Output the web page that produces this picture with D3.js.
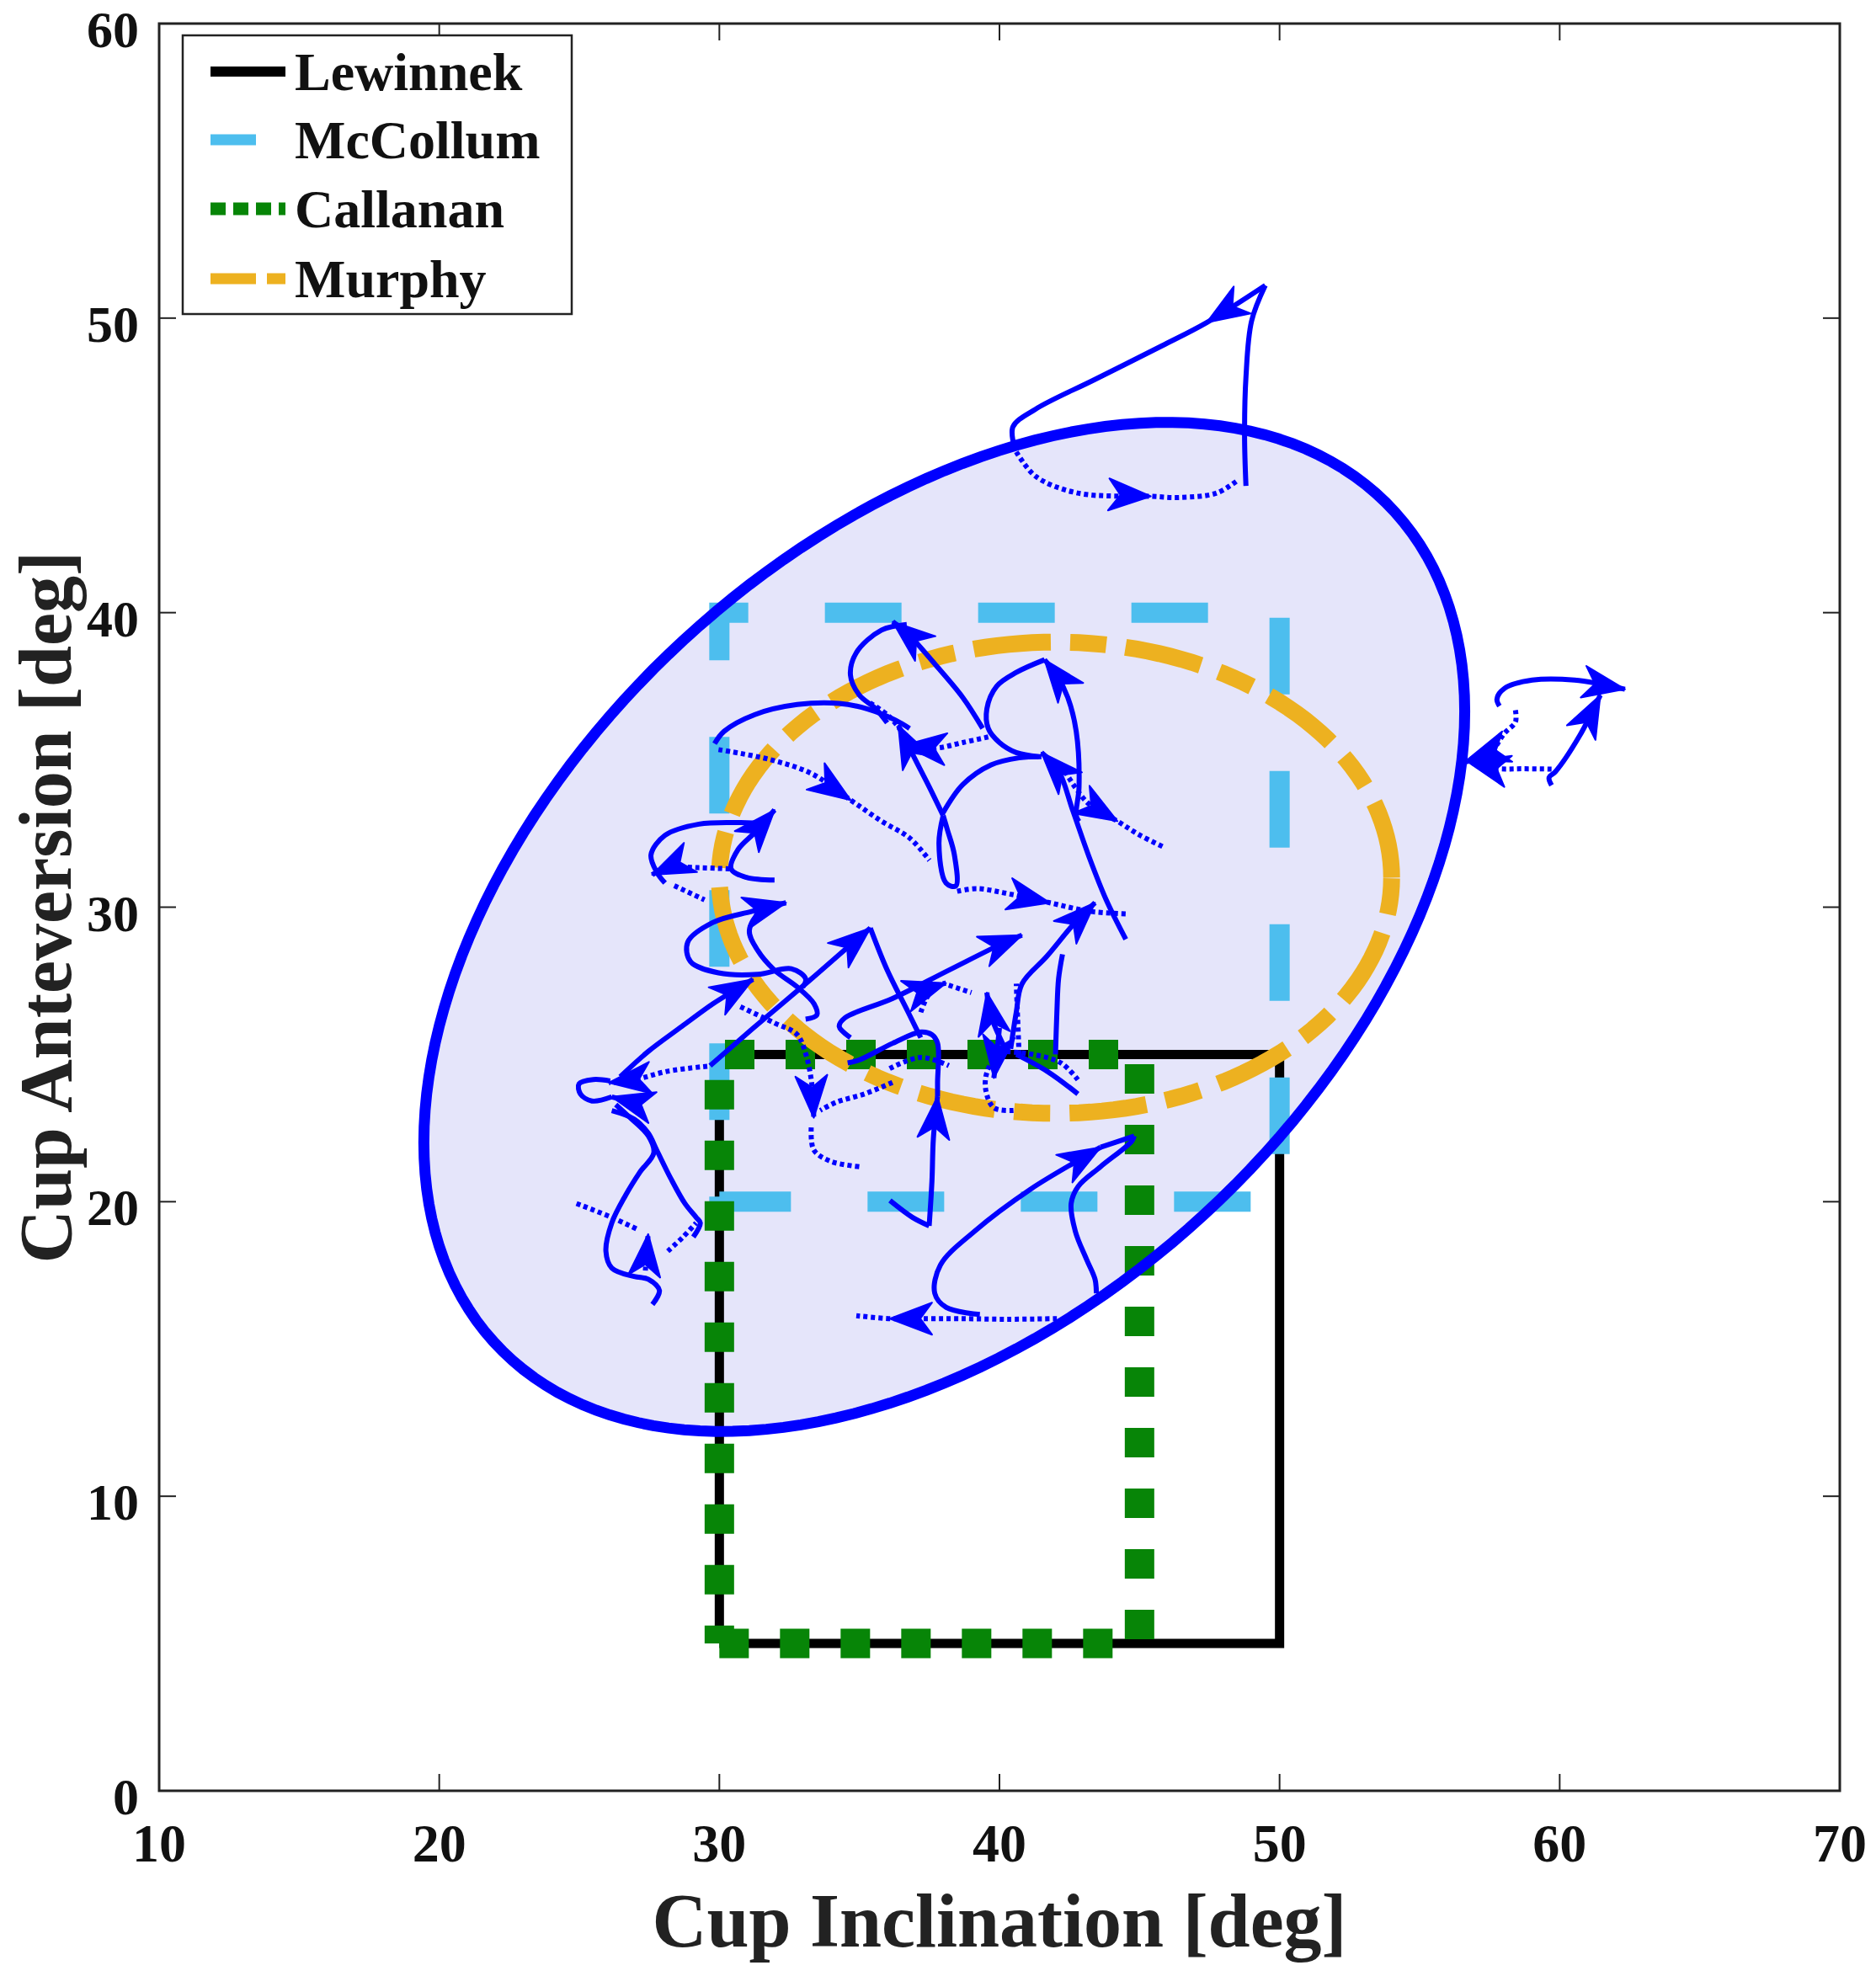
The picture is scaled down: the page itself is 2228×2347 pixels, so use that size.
<!DOCTYPE html>
<html><head><meta charset="utf-8">
<script src="https://cdn.jsdelivr.net/npm/d3@7"></script>
<style>body{margin:0;background:#fff}</style>
</head><body>
<svg id="chart" width="2228" height="2347"></svg>
<script>
// ---------------- data ----------------
const xTicks = [10,20,30,40,50,60,70];
const yTicks = [0,10,20,30,40,50,60];
const xTitle = "Cup Inclination [deg]";
const yTitle = "Cup Anteversion [deg]";
const legendNames = ["Lewinnek","McCollum","Callanan","Murphy"];
const lewinnekX = [30,50,50,30,30], lewinnekY = [5,5,25,25,5];
const mccollumX = [30,30,50,50,30], mccollumY = [20,40,40,20,20];
const callananX = [30,45,45,30,30], callananY = [5,5,25,25,5];
const murphyEllipse = [42,31.0,12,8.0];              // cx, cy, rx, ry
const confEllipse = [38.03,29.33,18.58,17.13,136];   // cx, cy, sdx, sdy, cov

const trajA = [
 {s:"solid",p:[[48.8,44.3],[48.75,46],[48.8,48],[49.0,49.9],[49.49,51.11]]},
 {s:"solid",p:[[49.49,51.11],[47.4,49.85],[45.8,49.06],[43.39,47.91],[41.29,46.91],[40.48,46.31],[40.54,45.6]],a:[1]},
 {s:"dot",p:[[40.6,45.46],[41.29,44.63],[42.79,44.06],[45.4,43.95],[46.4,43.91],[47.75,44.06],[48.5,44.49]],a:[3]}
];
const trajB = [
 {s:"solid",p:[[59.71,34.14],[59.62,34.4],[59.85,34.6],[60.7,35.8],[61.45,37.2]],a:[4]},
 {s:"solid",p:[[57.85,36.83],[57.76,37.06],[58.03,37.43],[59.02,37.71],[60.53,37.71],[62.33,37.4]],a:[5]},
 {s:"dot",p:[[58.42,36.69],[58.42,36.29],[58.03,35.91],[57.52,35.26],[56.7,35.0]],a:[4]},
 {s:"dot",p:[[59.71,34.69],[58.7,34.7],[57.73,34.71],[56.7,34.95]],a:[3]}
];
const trajC = [
 {s:"solid",p:[[29.83,35.55],[30.17,35.97],[31.27,36.54],[32.78,36.88],[34.28,36.92],[35.29,36.73],[36.29,36.35],[36.79,36.07]]},
 {s:"dot",p:[[29.97,35.35],[31.77,35.02],[33.28,34.54],[34.68,33.64],[35.79,32.92],[36.79,32.35],[37.5,31.59]],a:[3]}
];
const trajD = [
 {s:"solid",p:[[39.4,36.07],[38.69,37.12],[37.69,38.26],[36.79,39.22],[36.19,39.69]],a:[4]},
 {s:"solid",p:[[36.69,39.6],[35.79,39.41],[34.89,38.64],[34.68,37.88],[34.99,37.21],[35.59,36.73],[35.99,36.26]]},
 {s:"dot",p:[[35.38,36.94],[36.09,36.45],[36.79,35.59]]}
];
const trajE = [
 {s:"solid",p:[[42.84,32.91],[42.74,33.11],[42.84,34.07],[42.74,35.97],[42.44,37.12],[42.04,37.88],[41.61,38.4]],a:[6]},
 {s:"solid",p:[[41.61,38.4],[40.6,37.97],[39.9,37.5],[39.55,36.73],[39.6,36.07],[40.0,35.59],[40.6,35.25],[41.4,35.11]]},
 {s:"dot",p:[[42.2,34.83],[42.71,34.06],[43.21,33.49],[44.21,32.92],[45.02,32.44],[45.82,32.06]],a:[3]}
];
const trajF = [
 {s:"solid",p:[[44.51,28.91],[43.81,30.25],[43.21,31.68],[42.61,33.3],[42.11,34.63],[41.5,35.25]],a:[5]},
 {s:"solid",p:[[37.99,33.21],[38.69,34.16],[39.7,34.83],[40.7,35.07],[41.5,35.11]]},
 {s:"solid",p:[[37.99,33.11],[37.84,32.16],[38.09,30.82],[38.44,30.72],[38.39,31.78],[38.14,32.63],[37.99,33.11]]},
 {s:"solid",p:[[37.99,33.11],[37.5,34.07],[36.99,35.02],[36.39,36.17]],a:[3]},
 {s:"dot",p:[[38.49,30.54],[39.2,30.63],[40.4,30.44],[41.8,30.15],[43.21,29.86],[44.61,29.77]],a:[3]},
 {s:"dot",p:[[39.6,35.78],[38.69,35.59],[37.69,35.4],[36.59,35.5]],a:[3]}
];
const trajG = [
 {s:"solid",p:[[31.77,32.82],[30.77,32.87],[29.27,32.82],[28.06,32.44],[27.56,31.78],[27.76,31.2],[28.06,30.82]]},
 {s:"solid",p:[[31.97,30.92],[30.97,31.01],[30.42,31.3],[30.67,31.96],[31.27,32.54],[31.97,33.3]],a:[5]},
 {s:"dot",p:[[30.37,31.3],[29.27,31.34],[28.16,31.34],[27.6,31.1]],a:[3]},
 {s:"dot",p:[[28.39,30.73],[29.47,30.25]]}
];
const trajH = [
 {s:"solid",p:[[32.98,27.29],[33.08,27.57],[32.57,27.91],[31.37,27.72],[29.97,27.77],[28.97,28.15],[28.87,28.81],[29.77,29.48],[31.17,29.86],[32.38,30.15]],a:[9]},
 {s:"solid",p:[[33.08,26.2],[33.48,26.34],[33.38,26.72],[32.78,27.29],[31.97,27.86],[31.37,28.53],[31.07,29.2],[31.47,29.86],[32.2,30.1]]}
];
const trajI = [
 {s:"solid",p:[[26.46,24.24],[27.46,25.1],[28.66,25.95],[29.77,26.72],[30.57,27.19],[31.2,27.55]],a:[5]},
 {s:"dot",p:[[29.57,24.6],[28.16,24.43],[26.96,24.14],[26.06,24.04]],a:[3]},
 {s:"solid",p:[[26.16,23.56],[25.45,23.42],[25.04,23.66],[24.99,24.0],[25.5,24.15],[26.1,24.1]]},
 {s:"solid",p:[[27.2,23.3],[26.16,23.56]],a:[1]},
 {s:"solid",p:[[26.16,23.09],[26.96,22.8],[27.46,22.33],[27.76,21.76],[28.26,20.8],[28.77,19.94],[29.17,19.47],[29.32,19.28],[29.07,18.8]]},
 {s:"solid",p:[[26.3,23.3],[26.76,22.9],[27.46,22.24],[27.66,21.66],[27.16,21.0],[26.66,20.23],[26.16,19.28],[25.95,18.32],[26.16,17.75],[26.96,17.46],[27.46,17.37],[27.86,16.99],[27.61,16.51]]},
 {s:"dot",p:[[24.9,19.94],[26.15,19.47],[27.1,19.05]]},
 {s:"dot",p:[[27.36,17.66],[27.4,18.3],[27.46,18.9]],a:[2]},
 {s:"dot",p:[[28.16,18.32],[28.7,18.8],[29.17,19.28]]}
];
const trajJ = [
 {s:"solid",p:[[29.67,24.62],[31.17,25.86],[33.18,27.48],[34.68,28.72],[35.39,29.29]],a:[4]},
 {s:"solid",p:[[35.39,29.29],[35.99,27.87],[36.69,26.53],[37.09,25.76],[37.19,25.57]]}
];
const trajK = [
 {s:"solid",p:[[36.09,20.04],[36.89,19.47],[37.49,19.18]]},
 {s:"solid",p:[[37.49,19.18],[37.59,20.71],[37.64,22.14],[37.79,23.57]],a:[3]},
 {s:"solid",p:[[37.79,23.57],[37.79,24.05],[37.79,25.38],[37.59,25.67],[37.19,25.76],[36.19,25.38],[34.99,24.81],[34.58,24.71]]}
];
const trajL = [
 {s:"dot",p:[[30.75,26.62],[31.96,26.07],[32.77,25.68],[33.09,25.0],[33.3,24.0],[33.37,22.85]],a:[5]},
 {s:"dot",p:[[36.18,24.05],[35.18,23.66],[34.18,23.38],[33.6,23.1]]},
 {s:"dot",p:[[33.28,22.52],[33.37,21.76],[33.98,21.37],[35.08,21.18]]}
];
const trajM = [
 {s:"solid",p:[[34.68,25.57],[34.28,25.95],[34.48,26.24],[36.18,26.9],[38.19,27.86],[40.2,28.81],[40.8,29.05]],a:[6]}
];
const trajN = [
 {s:"solid",p:[[40.4,25.19],[40.6,26.43],[40.8,27.39],[41.7,28.34],[42.7,29.48],[43.41,30.15]],a:[5]},
 {s:"solid",p:[[42.0,25.0],[42.05,26.43],[42.11,27.57],[42.25,28.4]]},
 {s:"solid",p:[[42.8,23.66],[41.7,24.43],[40.6,25.0]]},
 {s:"dot",p:[[42.8,24.14],[42.2,24.71],[41.2,25.0],[40.2,25.1]]}
];
const trajO = [
 {s:"dot",p:[[40.5,23.1],[39.8,23.19],[39.5,23.86],[39.6,24.52],[40.0,25.0]]},
 {s:"solid",p:[[40.0,25.9],[39.9,25.0],[39.8,24.2]],a:[2]},
 {s:"solid",p:[[40.2,25.2],[39.7,26.3],[39.55,27.1]],a:[2]},
 {s:"dot",p:[[40.7,25.0],[40.65,26.2],[40.6,27.4]]}
];
const trajP = [
 {s:"dot",p:[[37.19,26.43],[37.39,26.9],[37.7,27.3],[38.09,27.42]],a:[3]},
 {s:"dot",p:[[38.19,27.35],[39.0,27.1]]},
 {s:"dot",p:[[36.08,24.52],[37.19,24.9],[38.19,24.62]]}
];
const trajQ = [
 {s:"solid",p:[[39.3,16.17],[38.1,16.41],[37.69,16.89],[37.89,17.85],[39.1,18.99],[41.1,20.42],[43.11,21.57],[43.61,21.85]],a:[7]},
 {s:"solid",p:[[43.61,21.85],[44.81,22.23]]},
 {s:"solid",p:[[44.81,22.23],[44.72,22.05],[43.61,21.19],[42.81,20.52],[42.56,19.94],[42.71,18.99],[43.11,18.04],[43.41,17.37],[43.46,16.89]]},
 {s:"dot",p:[[42.05,16.03],[40.29,16.01],[38.49,16.03],[37.09,16.03],[36.09,16.03],[34.89,16.13]],a:[4]}
];
const trajectories = [trajA,trajB,trajC,trajD,trajE,trajF,trajG,trajH,trajI,trajJ,trajK,trajL,trajM,trajN,trajO,trajP,trajQ];

// ---------------- drawing ----------------
const FONT = "'Liberation Serif','Times New Roman',serif";
const BLUE = "#0000FF", LBLUE = "#4DBEEE", GREEN = "#078507", ORANGE = "#EDB120";
const svg = d3.select("#chart");
svg.append("rect").attr("width",2228).attr("height",2347).attr("fill","#fff");
const x = d3.scaleLinear().domain([10,70]).range([189,2185]);
const y = d3.scaleLinear().domain([0,60]).range([2127,28]);

svg.append("defs").append("clipPath").attr("id","pc").append("rect")
  .attr("x",x(10)).attr("y",y(60)).attr("width",x(70)-x(10)).attr("height",y(0)-y(60));
const g = svg.append("g").attr("clip-path","url(#pc)");

const lin = d3.line().x(d=>x(d[0])).y(d=>y(d[1]));
const smooth = d3.line().x(d=>x(d[0])).y(d=>y(d[1])).curve(d3.curveCatmullRom.alpha(0.5));

// confidence ellipse outline from its parameters
const [ecx,ecy,esx,esy,ecov] = confEllipse;
const kk = ecov/esx, mm = Math.sqrt(esy*esy-kk*kk);
const ellPts = d3.range(0,361,2).map(d=>{const t=d*Math.PI/180;return [ecx+esx*Math.cos(t), ecy+kk*Math.cos(t)+mm*Math.sin(t)];});
g.append("path").attr("d",lin(ellPts)+"Z").attr("fill","#E5E5FA").attr("stroke","none");

// zones
const zip=(a,b)=>a.map((v,i)=>[v,b[i]]);
g.append("path").attr("d",lin(zip(lewinnekX,lewinnekY))).attr("fill","none").attr("stroke","#000").attr("stroke-width",11).attr("stroke-linejoin","miter");
g.append("path").attr("d",lin(zip(mccollumX,mccollumY))).attr("fill","none").attr("stroke",LBLUE).attr("stroke-width",24)
  .attr("stroke-dasharray","91 91").attr("stroke-dashoffset",85).attr("stroke-linejoin","miter");
g.append("path").attr("d",lin(zip(callananX,callananY))).attr("fill","none").attr("stroke",GREEN).attr("stroke-width",35)
  .attr("stroke-dasharray","35 37").attr("stroke-linejoin","miter");
const [mcx,mcy,mrx,mry] = murphyEllipse;
const murPts = d3.range(0,361,2).map(d=>{const t=d*Math.PI/180;return [mcx+mrx*Math.cos(t), mcy+mry*Math.sin(t)];});
g.append("path").attr("d",lin(murPts)).attr("fill","none").attr("stroke",ORANGE).attr("stroke-width",20)
  .attr("stroke-dasharray","92 23 43 23");

g.append("path").attr("d",lin(ellPts)+"Z").attr("fill","none").attr("stroke",BLUE).attr("stroke-width",13);

// trajectories
function arrowHead(tip, prev){
  const tx=x(tip[0]), ty=y(tip[1]), px=x(prev[0]), py=y(prev[1]);
  let dx=tx-px, dy=ty-py; const L=Math.hypot(dx,dy)||1; dx/=L; dy/=L;
  const nx=-dy, ny=dx, len=50, w=19, notch=36;
  return `M${tx},${ty}L${tx-len*dx+w*nx},${ty-len*dy+w*ny}L${tx-notch*dx},${ty-notch*dy}L${tx-len*dx-w*nx},${ty-len*dy-w*ny}Z`;
}
const tg = g.append("g");
trajectories.forEach(tr=>{
  tr.forEach(seg=>{
    tg.append("path").attr("d",smooth(seg.p)).attr("fill","none").attr("stroke",BLUE)
      .attr("stroke-width",seg.s==="dot"?6:6).attr("stroke-dasharray",seg.s==="dot"?"5 4":null);
    (seg.a||[]).forEach(i=>{
      tg.append("path").attr("d",arrowHead(seg.p[i],seg.p[i-1])).attr("fill",BLUE).attr("stroke",BLUE)
        .attr("stroke-width",2).attr("stroke-linejoin","round");
    });
  });
});

// axes box and ticks
const ax = svg.append("g");
ax.append("rect").attr("x",x(10)).attr("y",y(60)).attr("width",x(70)-x(10)).attr("height",y(0)-y(60))
  .attr("fill","none").attr("stroke","#222").attr("stroke-width",3);
const TL=20;
xTicks.forEach(t=>{
  ax.append("line").attr("x1",x(t)).attr("x2",x(t)).attr("y1",y(0)).attr("y2",y(0)-TL).attr("stroke","#222").attr("stroke-width",2);
  ax.append("line").attr("x1",x(t)).attr("x2",x(t)).attr("y1",y(60)).attr("y2",y(60)+TL).attr("stroke","#222").attr("stroke-width",2);
  ax.append("text").attr("x",x(t)).attr("y",y(0)+84).attr("text-anchor","middle")
    .attr("font-family",FONT).attr("font-weight","bold").attr("font-size",64).attr("fill","#111").text(t);
});
yTicks.forEach(t=>{
  ax.append("line").attr("x1",x(10)).attr("x2",x(10)+TL).attr("y1",y(t)).attr("y2",y(t)).attr("stroke","#222").attr("stroke-width",2);
  ax.append("line").attr("x1",x(70)).attr("x2",x(70)-TL).attr("y1",y(t)).attr("y2",y(t)).attr("stroke","#222").attr("stroke-width",2);
  ax.append("text").attr("x",x(10)-24).attr("y",y(t)+28).attr("text-anchor","end")
    .attr("font-family",FONT).attr("font-weight","bold").attr("font-size",62).attr("fill","#111").text(t);
});
svg.append("text").attr("x",(x(10)+x(70))/2).attr("y",2312).attr("text-anchor","middle")
  .attr("font-family",FONT).attr("font-weight","bold").attr("font-size",90).attr("fill","#222").text(xTitle);
svg.append("text").attr("transform",`translate(84,${(y(0)+y(60))/2}) rotate(-90)`).attr("text-anchor","middle")
  .attr("font-family",FONT).attr("font-weight","bold").attr("font-size",88).attr("fill","#222").text(yTitle);

// legend
const lg = svg.append("g");
lg.append("rect").attr("x",217).attr("y",42).attr("width",462).attr("height",331).attr("fill","#fff").attr("stroke","#222").attr("stroke-width",2.5);
const legStyles = [
  {c:"#000",w:12,da:null},
  {c:LBLUE,w:13,da:"54 40"},
  {c:GREEN,w:15,da:"18 9"},
  {c:ORANGE,w:13,da:"54 13 22 20"}
];
const legY = [85,166,248,331];
legendNames.forEach((n,i)=>{
  lg.append("line").attr("x1",250).attr("x2",339).attr("y1",legY[i]).attr("y2",legY[i])
    .attr("stroke",legStyles[i].c).attr("stroke-width",legStyles[i].w).attr("stroke-dasharray",legStyles[i].da);
  lg.append("text").attr("x",350).attr("y",legY[i]+22).attr("font-family",FONT).attr("font-weight","bold")
    .attr("font-size",64).attr("fill","#111").text(n);
});
</script>
</body></html>
